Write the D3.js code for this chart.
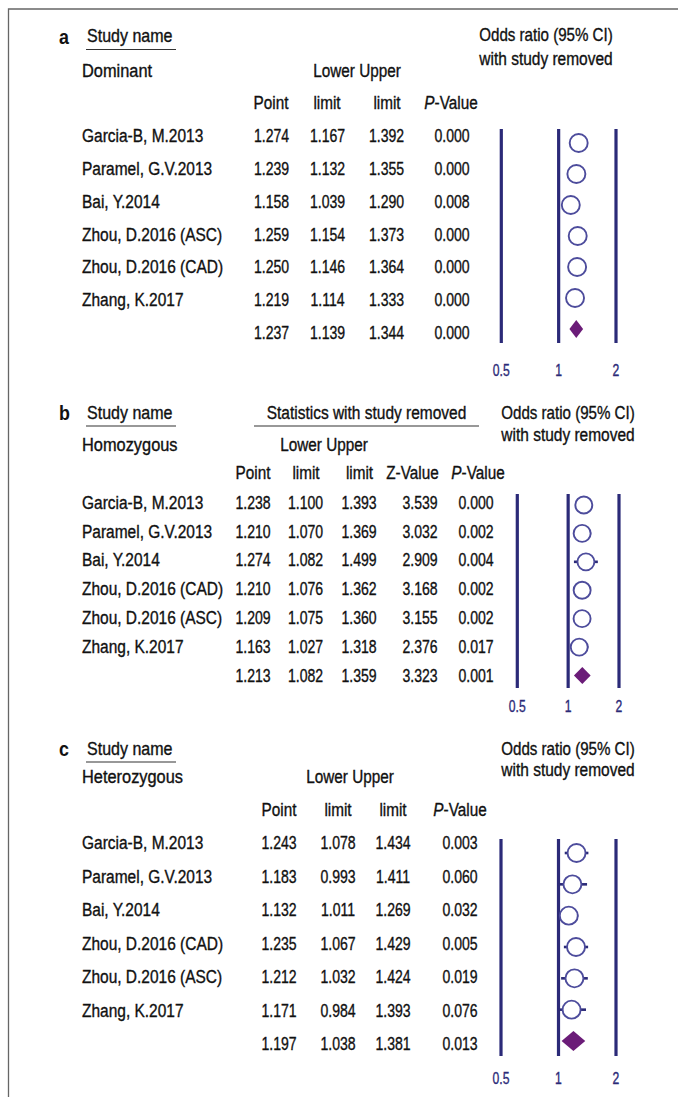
<!DOCTYPE html>
<html>
<head>
<meta charset="utf-8">
<script src="https://cdn.jsdelivr.net/npm/d3@7/dist/d3.min.js"></script>
<style>
  html, body { margin: 0; padding: 0; background: #fff; }
  svg { display: block; }
</style>
</head>
<body>
<script>
// ---------------- DATA ----------------
const ticks = [0.5, 1, 2];

// Panel a: Dominant
const studiesA = ["Garcia-B, M.2013", "Paramel, G.V.2013", "Bai, Y.2014", "Zhou, D.2016 (ASC)", "Zhou, D.2016 (CAD)", "Zhang, K.2017", ""];
const pointA = [1.274, 1.239, 1.158, 1.259, 1.250, 1.219, 1.237];
const lowerA = [1.167, 1.132, 1.039, 1.154, 1.146, 1.114, 1.139];
const upperA = [1.392, 1.355, 1.290, 1.373, 1.364, 1.333, 1.344];
const pvalA  = [0.000, 0.000, 0.008, 0.000, 0.000, 0.000, 0.000];

// Panel b: Homozygous
const studiesB = ["Garcia-B, M.2013", "Paramel, G.V.2013", "Bai, Y.2014", "Zhou, D.2016 (CAD)", "Zhou, D.2016 (ASC)", "Zhang, K.2017", ""];
const pointB = [1.238, 1.210, 1.274, 1.210, 1.209, 1.163, 1.213];
const lowerB = [1.100, 1.070, 1.082, 1.076, 1.075, 1.027, 1.082];
const upperB = [1.393, 1.369, 1.499, 1.362, 1.360, 1.318, 1.359];
const zvalB  = [3.539, 3.032, 2.909, 3.168, 3.155, 2.376, 3.323];
const pvalB  = [0.000, 0.002, 0.004, 0.002, 0.002, 0.017, 0.001];

// Panel c: Heterozygous
const studiesC = ["Garcia-B, M.2013", "Paramel, G.V.2013", "Bai, Y.2014", "Zhou, D.2016 (CAD)", "Zhou, D.2016 (ASC)", "Zhang, K.2017", ""];
const pointC = [1.243, 1.183, 1.132, 1.235, 1.212, 1.171, 1.197];
const lowerC = [1.078, 0.993, 1.011, 1.067, 1.032, 0.984, 1.038];
const upperC = [1.434, 1.411, 1.269, 1.429, 1.424, 1.393, 1.381];
const pvalC  = [0.003, 0.060, 0.032, 0.005, 0.019, 0.076, 0.013];

// ---------------- STYLE / LAYOUT ----------------
const W = 678, H = 1097;
const FONT = "'Liberation Sans', Arial, Helvetica, sans-serif";
const NAVY = "#2b2a78";
const CIRC = "#4d4c9c";
const DIAM = "#6b1c78";
const TXT = "#111";
const FS = 17.8;          // font size for all table text
const SX_LBL = 0.88;      // horizontal condensing for words
const SX_NUM = 0.79;      // horizontal condensing for numbers

const svg = d3.select("body").append("svg")
  .attr("width", W).attr("height", H)
  .style("font-family", FONT);

// condensed text helper
function addText(g, x, y, str, o = {}) {
  const fill = o.fill ?? TXT;
  const t = g.append("text")
    .attr("transform", `translate(${x},${y}) scale(${o.sx ?? SX_LBL},1)`)
    .attr("text-anchor", o.anchor ?? "start")
    .attr("font-size", o.size ?? FS)
    .attr("font-weight", o.weight ?? "normal")
    .attr("fill", fill)
    .attr("stroke", fill)
    .attr("stroke-width", o.weight === "bold" ? 0 : 0.35);
  if (str !== null) t.text(str);
  return t;
}

// frame (top and left edges visible)
svg.append("path")
  .attr("d", `M${W},9 L8.5,9 L8.5,${H}`)
  .attr("fill", "none").attr("stroke", "#666").attr("stroke-width", 1.3);

const fmt = d3.format(".3f");

const panels = [
  {
    letter: "a", group: "Dominant",
    names: studiesA, cols: [pointA, lowerA, upperA, pvalA],
    lower: lowerA, upper: upperA, point: pointA,
    headers: ["Point", "limit", "limit", null],
    hdrX: [271, 327, 387, 451], datX: [271.5, 327.5, 386.5, 452],
    lowerUpperX: 357,
    topY: 42, groupY: 77, hdrY: 109,
    rowY: [136, 332.7], plotRowY: [143, 329],
    lineY: [129, 343], tickY: 370,
    xRange: [501.3, 616], r: 9, diamH: 18,
    oddsX: 546, oddsY: [41, 65],
    stats: null
  },
  {
    letter: "b", group: "Homozygous",
    names: studiesB, cols: [pointB, lowerB, upperB, zvalB, pvalB],
    lower: lowerB, upper: upperB, point: pointB,
    headers: ["Point", "limit", "limit", "Z-Value", null],
    hdrX: [253, 306, 359.5, 412.5, 478], datX: [253, 305.5, 359, 420, 476],
    lowerUpperX: 324,
    topY: 418.5, groupY: 450.5, hdrY: 479,
    rowY: [502.3, 675.7], plotRowY: [505, 675.5],
    lineY: [494, 688], tickY: 706.5,
    xRange: [517.3, 619], r: 8.5, diamH: 17,
    oddsX: 568, oddsY: [418.5, 440.5],
    stats: { text: "Statistics with study removed", x1: 254, x2: 479 }
  },
  {
    letter: "c", group: "Heterozygous",
    names: studiesC, cols: [pointC, lowerC, upperC, pvalC],
    lower: lowerC, upper: upperC, point: pointC,
    headers: ["Point", "limit", "limit", null],
    hdrX: [279, 338, 393, 460], datX: [279, 338, 393, 460],
    lowerUpperX: 350,
    topY: 754.5, groupY: 783, hdrY: 815.5,
    rowY: [842.7, 1044], plotRowY: [853, 1041],
    lineY: [839, 1056], tickY: 1078,
    xRange: [501, 616], r: 9, diamH: 20,
    oddsX: 568, oddsY: [754.5, 775.5],
    stats: null
  }
];

panels.forEach(p => {
  const g = svg.append("g");
  const n = p.names.length;
  const rowY = d3.scaleLinear().domain([0, n - 1]).range(p.rowY);
  const plotY = d3.scaleLinear().domain([0, n - 1]).range(p.plotRowY);
  const x = d3.scaleLog().base(2).domain([0.5, 2]).range(p.xRange);

  // Panel letter
  addText(g, 59, p.topY + 1.5, p.letter, { size: 21, weight: "bold", sx: 0.85 });

  // Study name with underline
  addText(g, 87, p.topY, "Study name", { sx: 0.9 });
  g.append("line").attr("x1", 86).attr("x2", 176)
    .attr("y1", p.topY + 7.5).attr("y2", p.topY + 7.5)
    .attr("stroke", "#333").attr("stroke-width", 1.2);

  if (p.stats) {
    addText(g, (p.stats.x1 + p.stats.x2) / 2, p.topY, p.stats.text, { anchor: "middle", sx: 0.87 });
    g.append("line").attr("x1", p.stats.x1).attr("x2", p.stats.x2)
      .attr("y1", p.topY + 7.5).attr("y2", p.topY + 7.5)
      .attr("stroke", "#333").attr("stroke-width", 1.2);
  }

  // Odds ratio header
  addText(g, p.oddsX, p.oddsY[0], "Odds ratio (95% CI)", { anchor: "middle", sx: 0.85 });
  addText(g, p.oddsX, p.oddsY[1], "with study removed", { anchor: "middle", sx: 0.87 });

  // group label
  addText(g, 82, p.groupY, p.group, { sx: 0.92 });
  addText(g, p.lowerUpperX, p.groupY, "Lower Upper", { anchor: "middle", sx: 0.86 });

  // column headers
  p.headers.forEach((h, i) => {
    if (h === null) {
      const t = addText(g, p.hdrX[i], p.hdrY, null, { anchor: "middle", sx: 0.86 });
      t.append("tspan").attr("font-style", "italic").text("P");
      t.append("tspan").text("-Value");
    } else {
      addText(g, p.hdrX[i], p.hdrY, h, { anchor: "middle", sx: 0.86 });
    }
  });

  // rows: names and numbers
  p.names.forEach((name, i) => {
    const yb = rowY(i) + 6.3;
    if (name) addText(g, 82, yb, name, { sx: 0.87 });
    p.cols.forEach((col, j) => {
      addText(g, p.datX[j], yb, fmt(col[i]), { anchor: "middle", sx: SX_NUM });
    });
  });

  // reference lines at ticks
  g.selectAll(".ref").data(ticks).enter().append("line")
    .attr("x1", d => x(d)).attr("x2", d => x(d))
    .attr("y1", p.lineY[0]).attr("y2", p.lineY[1])
    .attr("stroke", NAVY).attr("stroke-width", 3.2);

  // tick labels
  ticks.forEach(d => {
    addText(g, x(d), p.tickY + 5.8, String(d), { anchor: "middle", size: 16, sx: 0.76, fill: NAVY });
  });

  // study markers (all but the last row)
  for (let i = 0; i < n - 1; i++) {
    const cy = plotY(i);
    g.append("line")
      .attr("x1", x(p.lower[i])).attr("x2", x(p.upper[i]))
      .attr("y1", cy).attr("y2", cy)
      .attr("stroke", NAVY).attr("stroke-width", 2.6);
    g.append("circle")
      .attr("cx", x(p.point[i])).attr("cy", cy).attr("r", p.r)
      .attr("fill", "#fff").attr("stroke", CIRC).attr("stroke-width", 1.9);
  }
  // overall diamond
  const k = n - 1, cy = plotY(k), hh = p.diamH / 2;
  g.append("path")
    .attr("d", `M${x(p.lower[k])},${cy} L${x(p.point[k])},${cy - hh} L${x(p.upper[k])},${cy} L${x(p.point[k])},${cy + hh} Z`)
    .attr("fill", DIAM);
});
</script>
</body>
</html>
